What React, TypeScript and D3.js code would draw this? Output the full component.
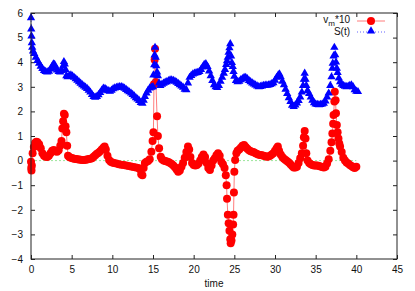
import { useRef, useEffect } from 'react';
import * as d3 from 'd3';

// S(t): [time, value]
const sPoints: [number, number][] = [
  [0, 5.8], [0.03, 5.35], [0.06, 5.06], [0.1, 4.79], [0.15, 4.6], [0.25, 4.45], [0.4, 4.35], [0.6, 4.2],
  [0.8, 4.07], [1.0, 3.95], [1.2, 3.83], [1.4, 3.74], [1.6, 3.66], [1.8, 3.62], [2.0, 3.6], [2.2, 3.63],
  [2.4, 3.72], [2.6, 3.83], [2.75, 3.92], [2.9, 3.9], [3.05, 3.78], [3.2, 3.68], [3.4, 3.62], [3.6, 3.6],
  [3.8, 3.66], [3.95, 3.85], [4.05, 4.02], [4.15, 3.92], [4.25, 3.7], [4.35, 3.45], [4.5, 3.4], [4.7, 3.46],
  [4.9, 3.48], [5.1, 3.44], [5.3, 3.38], [5.5, 3.32], [5.7, 3.26], [5.9, 3.2], [6.1, 3.14], [6.3, 3.08],
  [6.5, 3.03], [6.7, 2.98], [6.9, 2.93], [7.1, 2.86], [7.3, 2.78], [7.5, 2.68], [7.7, 2.6], [7.9, 2.57],
  [8.1, 2.6], [8.3, 2.67], [8.5, 2.76], [8.7, 2.86], [8.9, 2.94], [9.1, 2.93], [9.3, 2.88], [9.5, 2.84],
  [9.7, 2.82], [9.9, 2.86], [10.1, 2.92], [10.3, 2.95], [10.5, 2.97], [10.7, 2.99], [10.9, 3.0], [11.1, 3.0],
  [11.3, 2.98], [11.5, 2.94], [11.7, 2.89], [11.9, 2.84], [12.1, 2.79], [12.3, 2.74], [12.5, 2.68], [12.7, 2.62],
  [12.9, 2.55], [13.1, 2.5], [13.3, 2.44], [13.5, 2.36], [13.7, 2.33], [13.85, 2.45], [14.0, 2.6], [14.2, 2.74],
  [14.4, 2.86], [14.6, 2.95], [14.8, 2.98], [15.0, 3.0], [15.05, 3.48], [15.15, 3.89], [15.2, 4.29], [15.25, 4.6],
  [15.33, 4.2], [15.4, 3.85], [15.5, 3.6], [15.6, 3.45], [15.75, 3.15], [15.9, 3.05], [16.1, 3.1], [16.3, 3.14],
  [16.5, 3.18], [16.7, 3.2], [16.9, 3.24], [17.1, 3.27], [17.3, 3.27], [17.5, 3.25], [17.7, 3.22], [17.9, 3.18],
  [18.1, 3.13], [18.3, 3.08], [18.5, 3.03], [18.7, 2.98], [18.9, 2.9], [19.1, 2.88], [19.3, 3.15], [19.5, 3.38],
  [19.7, 3.46], [19.9, 3.52], [20.1, 3.55], [20.3, 3.57], [20.5, 3.58], [20.7, 3.62], [20.9, 3.7], [21.1, 3.8],
  [21.3, 3.9], [21.5, 3.93], [21.7, 3.82], [21.9, 3.64], [22.1, 3.45], [22.3, 3.25], [22.5, 3.08], [22.7, 3.0],
  [22.9, 2.97], [23.1, 3.05], [23.3, 3.22], [23.5, 3.38], [23.7, 3.55], [23.85, 3.7], [24.0, 3.9], [24.1, 4.05],
  [24.2, 4.2], [24.3, 4.4], [24.4, 4.58], [24.5, 4.75], [24.6, 4.25], [24.7, 3.98], [24.8, 3.82], [24.9, 3.62],
  [25.0, 3.42], [25.2, 3.25], [25.4, 3.2], [25.6, 3.22], [25.8, 3.28], [26.0, 3.33], [26.2, 3.38], [26.4, 3.38],
  [26.6, 3.32], [26.8, 3.25], [27.0, 3.2], [27.2, 3.15], [27.4, 3.11], [27.6, 3.07], [27.8, 3.03], [28.0, 3.0],
  [28.2, 3.01], [28.4, 3.03], [28.6, 3.05], [28.8, 3.06], [29.0, 3.06], [29.2, 3.07], [29.4, 3.09], [29.6, 3.12],
  [29.8, 3.16], [30.0, 3.26], [30.2, 3.38], [30.4, 3.48], [30.55, 3.52], [30.7, 3.4], [30.9, 3.22], [31.1, 3.08],
  [31.3, 2.9], [31.5, 2.72], [31.7, 2.55], [31.9, 2.4], [32.1, 2.25], [32.3, 2.2], [32.5, 2.26], [32.7, 2.34],
  [32.9, 2.44], [33.1, 2.58], [33.3, 2.78], [33.45, 3.05], [33.55, 3.3], [33.65, 3.55], [33.75, 3.3], [33.85, 3.05],
  [34.0, 2.85], [34.2, 2.72], [34.4, 2.58], [34.6, 2.45], [34.8, 2.35], [35.0, 2.3], [35.2, 2.28], [35.4, 2.27],
  [35.6, 2.28], [35.8, 2.3], [36.0, 2.33], [36.2, 2.42], [36.4, 2.58], [36.6, 2.74], [36.8, 3.05], [36.95, 3.4],
  [37.05, 3.75], [37.1, 3.95], [37.2, 4.25], [37.3, 4.6], [37.4, 4.3], [37.5, 4.0], [37.6, 3.75], [37.7, 3.58],
  [37.85, 3.35], [38.0, 3.2], [38.2, 3.1], [38.4, 3.05], [38.6, 3.02], [38.8, 3.0], [39.0, 3.02], [39.2, 3.05],
  [39.4, 3.07], [39.6, 3.0], [39.8, 2.88], [40.0, 2.82], [40.2, 2.8],
];

// v_m * 10: [time, value]
const vPoints: [number, number][] = [
  [0, -0.05], [0.03, -0.3], [0.06, -0.4], [0.1, -0.2], [0.2, 0.3], [0.35, 0.55], [0.5, 0.72], [0.65, 0.77],
  [0.8, 0.75], [1.0, 0.66], [1.2, 0.5], [1.4, 0.3], [1.6, 0.2], [1.8, 0.16], [2.0, 0.15], [2.2, 0.2],
  [2.4, 0.3], [2.6, 0.4], [2.8, 0.43], [3.0, 0.38], [3.2, 0.36], [3.4, 0.42], [3.6, 0.6], [3.75, 0.8],
  [3.85, 1.3], [3.95, 1.6], [4.05, 1.9], [4.15, 1.85], [4.25, 1.4], [4.35, 1.15], [4.45, 0.6], [4.55, 0.2],
  [4.7, 0.15], [4.9, 0.12], [5.1, 0.1], [5.3, 0.08], [5.5, 0.06], [5.7, 0.05], [5.9, 0.04], [6.1, 0.03],
  [6.3, 0.02], [6.5, 0.02], [6.7, 0.03], [6.9, 0.04], [7.1, 0.06], [7.3, 0.08], [7.5, 0.1], [7.7, 0.16],
  [7.9, 0.22], [8.1, 0.28], [8.3, 0.32], [8.5, 0.38], [8.7, 0.45], [8.9, 0.52], [9.05, 0.57], [9.2, 0.45],
  [9.4, 0.2], [9.6, 0.02], [9.8, -0.05], [10.0, -0.08], [10.2, -0.1], [10.5, -0.12], [10.8, -0.15], [11.1, -0.17],
  [11.4, -0.18], [11.7, -0.2], [12.0, -0.22], [12.3, -0.24], [12.6, -0.26], [12.9, -0.28], [13.2, -0.3], [13.4, -0.35],
  [13.55, -0.55], [13.7, -0.6], [13.85, -0.3], [14.0, -0.1], [14.2, -0.05], [14.4, -0.02], [14.6, 0.05], [14.8, 0.36],
  [14.95, 0.8], [15.05, 1.15], [15.12, 3.1], [15.2, 4.1], [15.25, 4.55], [15.35, 3.2], [15.5, 1.8], [15.6, 1.0],
  [15.75, 0.5], [15.95, 0.16], [16.1, 0.05], [16.3, 0.0], [16.5, -0.02], [16.7, -0.04], [16.9, -0.06], [17.1, -0.1],
  [17.3, -0.14], [17.5, -0.2], [17.7, -0.27], [17.9, -0.36], [18.1, -0.45], [18.3, -0.4], [18.5, -0.25], [18.7, -0.1],
  [18.9, 0.12], [19.1, 0.35], [19.3, 0.57], [19.45, 0.45], [19.6, 0.15], [19.8, -0.1], [20.0, -0.18], [20.2, -0.2],
  [20.4, -0.18], [20.6, -0.12], [20.8, 0.0], [21.0, 0.15], [21.2, 0.25], [21.4, 0.15], [21.6, -0.1], [21.8, -0.3],
  [22.0, -0.38], [22.2, -0.2], [22.4, 0.0], [22.6, 0.1], [22.8, 0.22], [23.0, 0.3], [23.2, 0.2], [23.4, -0.05],
  [23.6, -0.15], [23.8, -0.3], [23.95, -0.6], [24.05, -1.0], [24.1, -1.55], [24.2, -2.2], [24.3, -2.55], [24.4, -2.85],
  [24.5, -3.2], [24.55, -3.36], [24.65, -3.25], [24.75, -3.0], [24.85, -2.6], [24.9, -2.2], [24.95, -1.3], [25.0, -0.45],
  [25.1, 0.02], [25.25, 0.3], [25.4, 0.4], [25.6, 0.45], [25.8, 0.52], [26.0, 0.6], [26.2, 0.63], [26.4, 0.55],
  [26.6, 0.48], [26.8, 0.42], [27.0, 0.38], [27.2, 0.36], [27.4, 0.34], [27.6, 0.3], [27.8, 0.27], [28.0, 0.24],
  [28.2, 0.23], [28.4, 0.22], [28.6, 0.2], [28.8, 0.18], [29.0, 0.16], [29.2, 0.17], [29.4, 0.2], [29.6, 0.25],
  [29.8, 0.3], [30.0, 0.4], [30.2, 0.5], [30.35, 0.57], [30.5, 0.4], [30.7, 0.25], [30.9, 0.15], [31.1, 0.08],
  [31.3, 0.02], [31.5, -0.03], [31.7, -0.08], [31.9, -0.15], [32.1, -0.22], [32.3, -0.28], [32.5, -0.28], [32.7, -0.25],
  [32.9, -0.1], [33.1, 0.1], [33.3, 0.3], [33.45, 0.6], [33.55, 0.95], [33.65, 1.2], [33.75, 0.9], [33.85, 0.3],
  [34.0, 0.0], [34.2, -0.1], [34.4, -0.15], [34.6, -0.18], [34.8, -0.2], [35.0, -0.2], [35.2, -0.2], [35.4, -0.22],
  [35.6, -0.24], [35.8, -0.26], [36.0, -0.28], [36.2, -0.25], [36.4, -0.12], [36.6, 0.05], [36.8, 0.4], [36.95, 0.75],
  [37.05, 1.1], [37.15, 1.5], [37.2, 1.85], [37.3, 2.4], [37.35, 2.8], [37.45, 2.45], [37.5, 1.92], [37.6, 1.45],
  [37.7, 1.15], [37.8, 0.9], [37.9, 0.7], [38.0, 0.57], [38.2, 0.35], [38.4, 0.12], [38.6, 0.0], [38.8, -0.08],
  [39.0, -0.12], [39.2, -0.18], [39.4, -0.22], [39.6, -0.27], [39.8, -0.3], [40.0, -0.25],
];

const zeroTimes = [0, 40];
const xTicks = [0, 5, 10, 15, 20, 25, 30, 35, 40, 45];
const yTicks = [-4, -3, -2, -1, 0, 1, 2, 3, 4, 5, 6];

export default function App() {
  const ref = useRef<SVGSVGElement>(null);

  useEffect(() => {
    const svg = d3.select(ref.current);
    svg.selectAll('*').remove();

    const W = 415, H = 291;
    const m = { top: 13, right: 18, bottom: 32, left: 31 };
    const iw = W - m.left - m.right;
    const ih = H - m.top - m.bottom;
    const font = '"Liberation Sans", Arial, Helvetica, sans-serif';

    const x = d3.scaleLinear().domain([0, 45]).range([0, iw]);
    const y = d3.scaleLinear().domain([-4, 6]).range([ih, 0]);

    const g = svg.append('g').attr('transform', `translate(${m.left},${m.top})`);

    const styleAxis = (s: any) => {
      s.select('.domain').remove();
      s.selectAll('line').attr('stroke', '#222').attr('stroke-width', 1);
      s.selectAll('text').attr('fill', '#111').style('font-family', font).style('font-size', '10px');
    };

    g.append('g').attr('transform', `translate(0,${ih})`)
      .call(d3.axisBottom(x).tickValues(xTicks).tickSize(-4).tickPadding(7).tickFormat(d3.format('d')))
      .call(styleAxis);
    g.append('g')
      .call(d3.axisTop(x).tickValues(xTicks).tickSize(-4).tickFormat(() => ''))
      .call(styleAxis);
    g.append('g')
      .call(d3.axisLeft(y).tickValues(yTicks).tickSize(-4).tickPadding(8).tickFormat(d3.format('d')))
      .call(styleAxis);
    g.append('g').attr('transform', `translate(${iw},0)`)
      .call(d3.axisRight(y).tickValues(yTicks).tickSize(-4).tickFormat(() => ''))
      .call(styleAxis);

    // zero reference line
    g.append('path').datum(zeroTimes)
      .attr('fill', 'none').attr('stroke', '#9be59b').attr('stroke-width', 1).attr('stroke-dasharray', '2,2')
      .attr('d', d3.line<number>().x(d => x(d)).y(() => y(0)));

    // v_m*10
    g.append('path').datum(vPoints)
      .attr('fill', 'none').attr('stroke', '#ff5a5a').attr('stroke-width', 0.8)
      .attr('d', d3.line<[number, number]>().x(d => x(d[0])).y(d => y(d[1])));
    g.append('g').selectAll('circle').data(vPoints).join('circle')
      .attr('cx', d => x(d[0])).attr('cy', d => y(d[1])).attr('r', 4).attr('fill', '#ff0000');

    // S(t)
    g.append('path').datum(sPoints)
      .attr('fill', 'none').attr('stroke', '#3a3aff').attr('stroke-width', 0.8).attr('stroke-dasharray', '1,2')
      .attr('d', d3.line<[number, number]>().x(d => x(d[0])).y(d => y(d[1])));
    const tri = d3.symbol(d3.symbolTriangle, 30);
    g.append('g').selectAll('path').data(sPoints).join('path')
      .attr('transform', d => `translate(${x(d[0])},${y(d[1])})`)
      .attr('d', tri()).attr('fill', '#0000ff');

    // frame
    g.append('rect').attr('width', iw).attr('height', ih)
      .attr('fill', 'none').attr('stroke', '#222').attr('stroke-width', 1);

    // legend
    const lg = svg.append('g').style('font-family', font).style('font-size', '10px');
    const t1 = lg.append('text').attr('x', 350).attr('y', 23).attr('text-anchor', 'end').attr('fill', '#111');
    t1.append('tspan').text('v');
    t1.append('tspan').attr('dy', 3).style('font-size', '8px').text('m');
    t1.append('tspan').attr('dy', -3).text('*10');
    lg.append('text').attr('x', 350).attr('y', 35).attr('text-anchor', 'end').attr('fill', '#111').text('S(t)');
    lg.append('line').attr('x1', 357).attr('x2', 385).attr('y1', 21).attr('y2', 21)
      .attr('stroke', '#ff5a5a').attr('stroke-width', 0.8);
    lg.append('circle').attr('cx', 371).attr('cy', 21).attr('r', 4).attr('fill', '#ff0000');
    lg.append('line').attr('x1', 357).attr('x2', 385).attr('y1', 32).attr('y2', 32)
      .attr('stroke', '#3a3aff').attr('stroke-width', 0.8).attr('stroke-dasharray', '1,2');
    lg.append('path').attr('transform', 'translate(371,31)').attr('d', tri()).attr('fill', '#0000ff');

    // x title
    svg.append('text').attr('x', m.left + x(22.5)).attr('y', 287).attr('text-anchor', 'middle')
      .style('font-family', font).style('font-size', '10px').attr('fill', '#111').text('time');
  }, []);

  return (
    <div style={{ position: 'absolute', left: 0, top: 0 }}>
      <svg ref={ref} width={415} height={291} style={{ display: 'block', background: '#fff' }} />
    </div>
  );
}
